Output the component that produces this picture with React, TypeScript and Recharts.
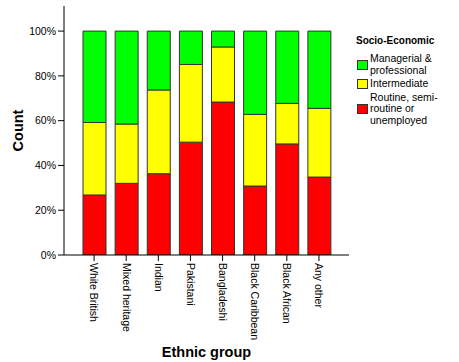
import React from 'react';
import { BarChart, Bar, XAxis, YAxis, Legend } from 'recharts';

const categories = ['White British', 'Mixed heritage', 'Indian', 'Pakistani', 'Bangladeshi', 'Black Caribbean', 'Black African', 'Any other'];
const routine = [26.8, 32.0, 36.3, 50.4, 68.3, 30.8, 49.6, 34.8];
const intermediate = [32.4, 26.5, 37.4, 34.7, 24.6, 32.0, 18.1, 30.7];
const managerial = [40.8, 41.5, 26.3, 14.9, 7.1, 37.2, 32.3, 34.5];
const yTicks = [0, 20, 40, 60, 80, 100];
const legendTitle = 'Socio-Economic';
const legendLines = [
  ['Managerial &', 'professional'],
  ['Intermediate'],
  ['Routine, semi-', 'routine or', 'unemployed'],
];

const COLORS = { managerial: '#00FF00', intermediate: '#FFFF00', routine: '#FF0000' };
const legendColors = [COLORS.managerial, COLORS.intermediate, COLORS.routine];

const data = categories.map((name, i) => ({
  name,
  routine: routine[i],
  intermediate: intermediate[i],
  managerial: managerial[i],
}));

const FONT = 'Arial, "Liberation Sans", sans-serif';

const XTick = (props: any) => {
  const { x, y, payload } = props;
  return (
    <text
      transform={`translate(${x},${y}) rotate(90)`}
      x={0}
      y={0}
      dy="0.35em"
      textAnchor="start"
      fontSize={10.5}
      fill="#000"
      fontFamily={FONT}
    >
      {payload.value}
    </text>
  );
};

const YLabel = (props: any) => {
  const vb = props.viewBox || {};
  const cy = (vb.y || 0) + (vb.height || 0) / 2;
  const x = 23;
  return (
    <text
      transform={`rotate(-90, ${x}, ${cy})`}
      x={x}
      y={cy}
      textAnchor="middle"
      fontSize={14.5}
      fontWeight="bold"
      fill="#000"
      fontFamily={FONT}
    >
      Count
    </text>
  );
};

const XLabel = (props: any) => {
  const vb = props.viewBox || {};
  const cx = (vb.x || 0) + (vb.width || 0) / 2;
  return (
    <text x={cx} y={357} textAnchor="middle" fontSize={14.5} fontWeight="bold" fill="#000" fontFamily={FONT}>
      Ethnic group
    </text>
  );
};

const LegendContent = () => (
  <div style={{ fontFamily: FONT, color: '#000' }}>
    <div style={{ fontSize: 10, fontWeight: 'bold', lineHeight: '12px', marginBottom: 6 }}>{legendTitle}</div>
    {legendLines.map((lines, i) => (
      <div key={i} style={{ display: 'flex', alignItems: 'center', marginBottom: 2 }}>
        <div
          style={{
            width: 9,
            height: 8,
            background: legendColors[i],
            border: '1px solid #333',
            marginLeft: 1,
            marginRight: 2,
            flex: '0 0 auto',
          }}
        />
        <div style={{ fontSize: 10.5, lineHeight: '11.5px' }}>
          {lines.map((l, j) => (
            <div key={j} style={{ whiteSpace: 'nowrap' }}>{l}</div>
          ))}
        </div>
      </div>
    ))}
  </div>
);

export default function App() {
  return (
    <div style={{ position: 'absolute', left: 0, top: 0, width: 459, height: 362, background: '#fff', fontFamily: FONT }}>
      <BarChart
        width={459}
        height={362}
        data={data}
        margin={{ top: 6, right: 110, bottom: 0, left: 0 }}
        barSize={23}
      >
        <XAxis
          xAxisId="top"
          orientation="top"
          dataKey="name"
          height={0}
          tick={false}
          tickLine={false}
          axisLine={{ stroke: '#888' }}
        />
        <YAxis
          yAxisId="right"
          orientation="right"
          width={0}
          tick={false}
          tickLine={false}
          axisLine={{ stroke: '#888' }}
          domain={[0, 111.2]}
        />
        <XAxis
          dataKey="name"
          height={107}
          interval={0}
          padding={{ left: 14, right: 14 }}
          tickSize={6}
          tickMargin={2}
          tick={<XTick />}
          axisLine={{ stroke: '#000' }}
          tickLine={{ stroke: '#000' }}
          label={<XLabel />}
        />
        <YAxis
          width={64}
          domain={[0, 111.2]}
          ticks={yTicks}
          tickFormatter={(v: number) => `${v}%`}
          tickSize={6}
          tickMargin={2}
          tick={{ fill: '#000', fontSize: 10.5 }}
          axisLine={{ stroke: '#000' }}
          tickLine={{ stroke: '#000' }}
          label={<YLabel />}
          allowDataOverflow
        />
        <Legend
          layout="vertical"
          align="center"
          verticalAlign="middle"
          content={<LegendContent />}
          wrapperStyle={{ left: 356, top: 35, width: 100 }}
        />
        <Bar dataKey="routine" stackId="a" fill={COLORS.routine} stroke="#333" strokeWidth={1} isAnimationActive={false} />
        <Bar dataKey="intermediate" stackId="a" fill={COLORS.intermediate} stroke="#333" strokeWidth={1} isAnimationActive={false} />
        <Bar dataKey="managerial" stackId="a" fill={COLORS.managerial} stroke="#333" strokeWidth={1} isAnimationActive={false} />
      </BarChart>
    </div>
  );
}
